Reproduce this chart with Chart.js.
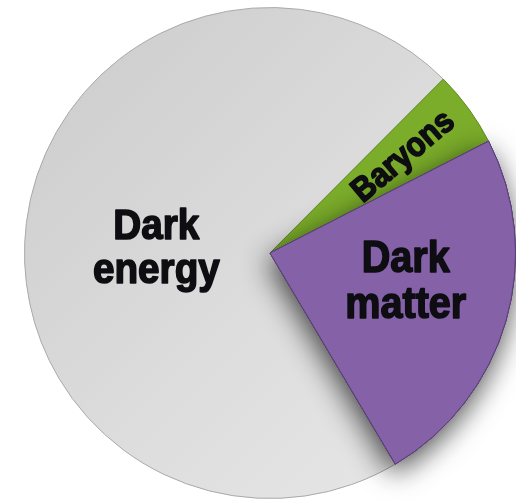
<!DOCTYPE html>
<html>
<head>
<meta charset="utf-8">
<script src="https://cdn.jsdelivr.net/npm/chart.js@4.4.1/dist/chart.umd.min.js"></script>
<style>
  html, body { margin: 0; padding: 0; background: #ffffff; }
  canvas { display: block; }
</style>
</head>
<body>
<canvas id="pieChart" width="516" height="500"></canvas>
<script>
// data (percent of the universe)
const categories = ['Dark energy', 'Baryons', 'Dark matter'];
const shares = [71, 5, 24];
const labelLines = [['Dark', 'energy'], ['Baryons'], ['Dark', 'matter']];

const sliceColors = ['#dadada', '#7bad2b', '#8562a8'];
const edgeColors = ['#a9a9a9', '#5f8a22', '#5b3f7a'];

// gray slice gets a soft light gradient like the original
function sliceFill(context) {
  const i = context.dataIndex;
  if (i !== 0) return sliceColors[i];
  const chart = context.chart;
  const area = chart.chartArea;
  if (!area) return sliceColors[0];
  const g = chart.ctx.createLinearGradient(area.left, area.top, area.right, area.bottom);
  g.addColorStop(0, '#cbcbcb');
  g.addColorStop(0.55, '#dddddd');
  g.addColorStop(1, '#e9e9e9');
  return g;
}

// drop shadow under the dark matter wedge
const shadowPlugin = {
  id: 'wedgeShadow',
  afterDatasetsDraw(chart) {
    const arc = chart.getDatasetMeta(0).data[2];
    const ctx = chart.ctx;
    ctx.save();
    ctx.shadowColor = 'rgba(0,0,0,0.7)';
    ctx.shadowBlur = 28;
    ctx.shadowOffsetX = -2;
    ctx.shadowOffsetY = 9;
    arc.draw(ctx);
    ctx.restore();
    arc.draw(ctx);
  }
};

function heavyText(ctx, txt, x, y) {
  ctx.lineWidth = 1.6;
  ctx.lineJoin = 'round';
  ctx.strokeText(txt, x, y);
  ctx.fillText(txt, x, y);
}

// slice labels, placed from the wedge geometry
const labelPlugin = {
  id: 'sliceLabels',
  afterDraw(chart) {
    const ctx = chart.ctx;
    const meta = chart.getDatasetMeta(0);
    const c = meta.data[0];
    const cx = c.x, cy = c.y, r = c.outerRadius;
    ctx.save();
    ctx.fillStyle = '#0d0d12';
    ctx.strokeStyle = '#0d0d12';
    ctx.textAlign = 'center';
    ctx.textBaseline = 'alphabetic';

    // Dark energy
    ctx.save();
    ctx.font = 'bold 43px "Liberation Sans", Arial, sans-serif';
    ctx.translate(cx - r * 0.463, cy);
    ctx.scale(0.9, 1);
    heavyText(ctx, labelLines[0][0], 0, -14);
    heavyText(ctx, labelLines[0][1], 0, 30);
    ctx.restore();

    // Dark matter
    ctx.save();
    ctx.font = 'bold 44px "Liberation Sans", Arial, sans-serif';
    ctx.translate(cx + r * 0.553, cy);
    ctx.scale(0.9, 1);
    heavyText(ctx, labelLines[2][0], 0, 19);
    heavyText(ctx, labelLines[2][1], 0, 65);
    ctx.restore();

    // Baryons, along the middle of the green wedge
    const b = meta.data[1];
    const mid = (b.startAngle + b.endAngle) / 2;
    ctx.save();
    ctx.font = 'bold 34px "Liberation Sans", Arial, sans-serif';
    ctx.translate(cx + Math.cos(mid) * r * 0.67, cy + Math.sin(mid) * r * 0.67);
    ctx.rotate(mid - 0.07);
    ctx.scale(0.9, 1);
    ctx.textBaseline = 'middle';
    heavyText(ctx, labelLines[1][0], 0, 1);
    ctx.restore();

    ctx.restore();
  }
};

const pieContext = document.getElementById('pieChart').getContext('2d');

const chart = new Chart(pieContext, {
  type: 'pie',
  data: {
    labels: categories,
    datasets: [{
      data: shares,
      backgroundColor: sliceFill,
      borderColor: edgeColors,
      borderWidth: 1,
    }],
  },
  options: {
    responsive: false,
    animation: false,
    rotation: 149.3,
    layout: { padding: { left: 24, top: 6, right: 0, bottom: 0 } },
    plugins: {
      legend: { display: false },
      tooltip: { enabled: false },
    },
  },
  plugins: [shadowPlugin, labelPlugin],
});
</script>
</body>
</html>
